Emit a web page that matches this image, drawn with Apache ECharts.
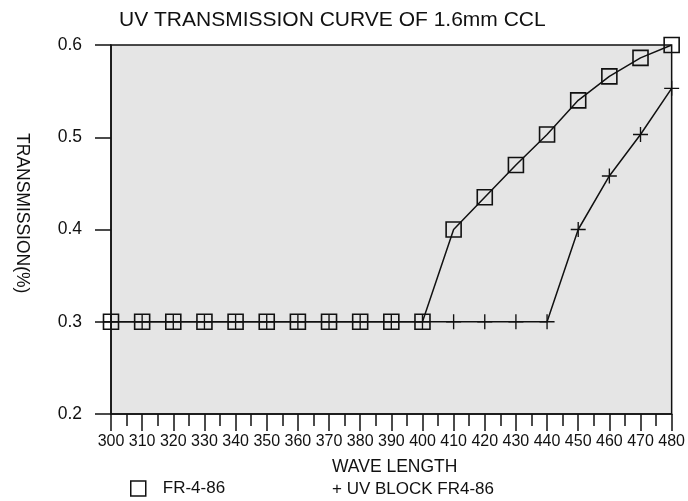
<!DOCTYPE html>
<html>
<head>
<meta charset="utf-8">
<script src="https://cdn.jsdelivr.net/npm/echarts@6/dist/echarts.min.js"></script>
<style>
html,body{margin:0;padding:0;background:#fff;}
#c{width:688px;height:501px;}
</style>
</head>
<body>
<div id="c"></div>
<script>
var wavelengths = [300,310,320,330,340,350,360,370,380,390,400,410,420,430,440,450,460,470,480];
var fr486 = [0.3,0.3,0.3,0.3,0.3,0.3,0.3,0.3,0.3,0.3,0.3,0.40,0.435,0.47,0.503,0.54,0.566,0.586,0.6];
var uvBlock = [0.3,0.3,0.3,0.3,0.3,0.3,0.3,0.3,0.3,0.3,0.3,0.3,0.3,0.3,0.3,0.40,0.458,0.503,0.553];
var yTicks = [0.2,0.3,0.4,0.5,0.6];

var FONT = '"Liberation Sans", Arial, sans-serif';
var plusPath = 'path://M-1,-0.09L1,-0.09L1,0.09L-1,0.09Z M-0.09,-1L0.09,-1L0.09,1L-0.09,1Z';

function pairs(xs, ys){ return xs.map(function(x,i){ return [x, ys[i]]; }); }

var chart = echarts.init(document.getElementById('c'), null, {renderer:'canvas'});
chart.setOption({
  backgroundColor:'#ffffff',
  animation:false,
  title:{
    text:'UV TRANSMISSION CURVE OF 1.6mm CCL',
    left:119, top:10, padding:0,
    textStyle:{fontFamily:FONT, fontSize:21, fontWeight:'normal', color:'#111'}
  },
  grid:{
    left:111, right:13, top:45, bottom:87,
    show:true, backgroundColor:'#e5e5e5', borderColor:'#111', borderWidth:1.5
  },
  xAxis:{
    type:'value', min:300, max:480, interval:10,
    axisLine:{show:true, onZero:false, lineStyle:{color:'#111', width:1.5}},
    axisTick:{show:true, inside:false, length:17, lineStyle:{color:'#111', width:1.5}},
    minorTick:{show:true, splitNumber:2, length:12, lineStyle:{color:'#111', width:1.5}},
    splitLine:{show:false},
    axisLabel:{margin:20, fontFamily:FONT, fontSize:16, color:'#111',
      formatter:function(v){ return String(v); }}
  },
  yAxis:{
    type:'value', min:0.2, max:0.6, interval:0.1,
    axisLine:{show:true, lineStyle:{color:'#111', width:1.5}},
    axisTick:{show:true, inside:false, length:16, lineStyle:{color:'#111', width:1.5}},
    splitLine:{show:false},
    axisLabel:{margin:29, fontFamily:FONT, fontSize:17.5, color:'#111',
      formatter:function(v){ return v.toFixed(1); }}
  },
  legend:[
    {
      data:[{name:'FR-4-86', icon:'rect'}],
      left:130, top:480, padding:0, itemWidth:15, itemHeight:15,
      itemStyle:{color:'transparent', borderColor:'#111', borderWidth:1.5},
      textStyle:{fontFamily:FONT, fontSize:17, color:'#111', padding:[0,0,0,12]},
      selectedMode:false
    },
    {
      data:[{name:'UV BLOCK FR4-86', icon:'none'}],
      left:327, top:481, padding:0, itemWidth:0, itemHeight:10,
      formatter:'+ {name}',
      textStyle:{fontFamily:FONT, fontSize:17, color:'#111'},
      selectedMode:false
    }
  ],
  graphic:[
    {
      type:'text', left:332, top:458,
      style:{text:'WAVE LENGTH', font:'17.5px ' + FONT, fill:'#111'}
    },
    {
      type:'text', x:22, y:133, rotation:-Math.PI/2,
      style:{text:'TRANSMISSION(%)', font:'17.5px ' + FONT, fill:'#111', textAlign:'left', textVerticalAlign:'middle'}
    }
  ],
  series:[
    {
      name:'UV BLOCK FR4-86', type:'line',
      data:pairs(wavelengths, uvBlock),
      symbol:plusPath, symbolSize:15, symbolKeepAspect:true,
      lineStyle:{color:'#111', width:1.5},
      itemStyle:{color:'#111', borderWidth:0},
      z:3
    },
    {
      name:'FR-4-86', type:'line',
      data:pairs(wavelengths, fr486),
      symbol:'rect', symbolSize:15,
      showAllSymbol:true,
      lineStyle:{color:'#111', width:1.5},
      itemStyle:{color:'rgba(0,0,0,0)', borderColor:'#111', borderWidth:1.6},
      z:4
    }
  ]
});
</script>
</body>
</html>
